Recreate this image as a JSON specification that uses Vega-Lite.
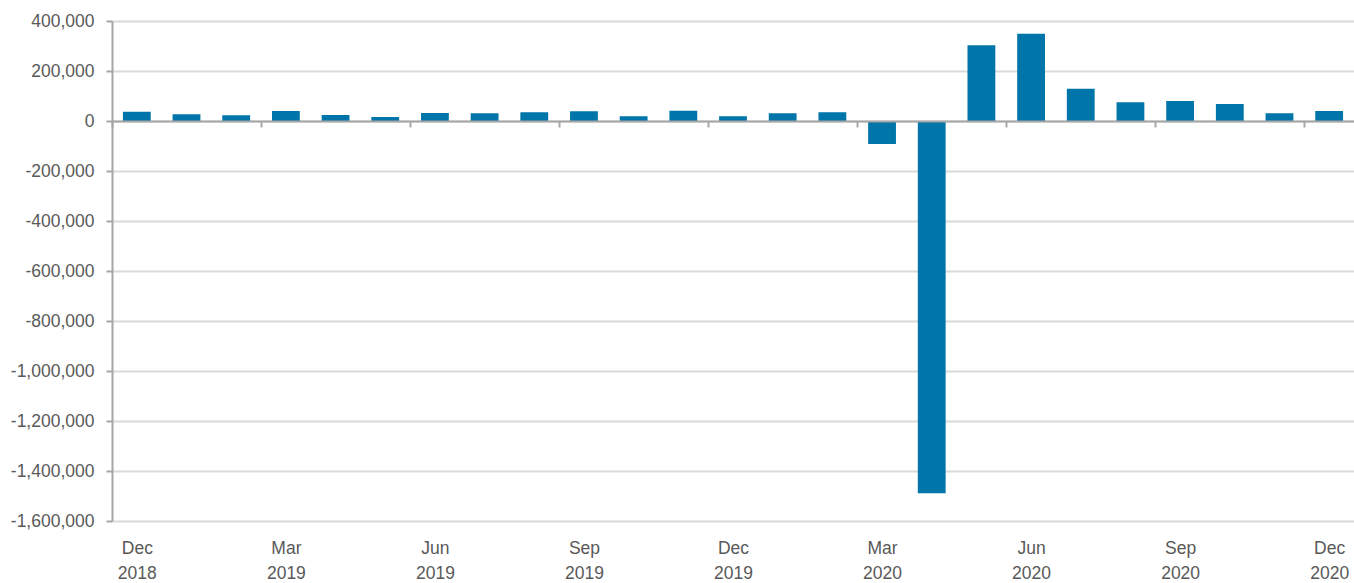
{
  "$schema": "https://vega.github.io/schema/vega-lite/v6.json",
  "width": 1242,
  "height": 500,
  "autosize": {"type": "none"},
  "padding": {"left": 112, "top": 21, "right": 0, "bottom": 62},
  "background": "white",
  "config": {"view": {"stroke": null}},
  "data": {"values": [
    {"month": "Dec 2018", "value": 37000},
    {"month": "Jan 2019", "value": 27000},
    {"month": "Feb 2019", "value": 23000},
    {"month": "Mar 2019", "value": 40000},
    {"month": "Apr 2019", "value": 24000},
    {"month": "May 2019", "value": 16000},
    {"month": "Jun 2019", "value": 32000},
    {"month": "Jul 2019", "value": 31000},
    {"month": "Aug 2019", "value": 35000},
    {"month": "Sep 2019", "value": 39000},
    {"month": "Oct 2019", "value": 19000},
    {"month": "Nov 2019", "value": 41000},
    {"month": "Dec 2019", "value": 19000},
    {"month": "Jan 2020", "value": 31000},
    {"month": "Feb 2020", "value": 35000},
    {"month": "Mar 2020", "value": -92000},
    {"month": "Apr 2020", "value": -1489000},
    {"month": "May 2020", "value": 303000},
    {"month": "Jun 2020", "value": 349000},
    {"month": "Jul 2020", "value": 129000},
    {"month": "Aug 2020", "value": 75000},
    {"month": "Sep 2020", "value": 80000},
    {"month": "Oct 2020", "value": 68000},
    {"month": "Nov 2020", "value": 31000},
    {"month": "Dec 2020", "value": 40000}
  ]},
  "mark": {"type": "bar", "color": "#0075a9"},
  "encoding": {
    "x": {
      "field": "month",
      "type": "ordinal",
      "sort": null,
      "scale": {"paddingInner": 0.44, "paddingOuter": 0.22},
      "axis": {
        "title": null,
        "values": ["Dec 2018", "Mar 2019", "Jun 2019", "Sep 2019", "Dec 2019", "Mar 2020", "Jun 2020", "Sep 2020", "Dec 2020"],
        "labelExpr": "split(datum.label, ' ')",
        "labelAngle": 0,
        "labelAlign": "center",
        "labelBaseline": "top",
        "labelLineHeight": 25.5,
        "labelPadding": 412,
        "labelFont": "Liberation Sans",
        "labelFontSize": 17.5,
        "labelColor": "#595959",
        "labelOverlap": false,
        "labelBound": false,
        "offset": -400,
        "bandPosition": 0,
        "tickOffset": -10.9,
        "labelOffset": 10.9,
        "tickSize": 6,
        "tickWidth": 2,
        "tickColor": "#a6a6a6",
        "domainColor": "#a6a6a6",
        "domainWidth": 2,
        "grid": false,
        "zindex": 1
      }
    },
    "y": {
      "field": "value",
      "type": "quantitative",
      "scale": {"domain": [-1600000, 400000], "nice": false, "zero": false},
      "axis": {
        "title": null,
        "values": [-1600000, -1400000, -1200000, -1000000, -800000, -600000, -400000, -200000, 0, 200000, 400000],
        "format": ",d",
        "labelExpr": "replace(datum.label, '−', '-')",
        "labelFont": "Liberation Sans",
        "labelFontSize": 17.5,
        "labelColor": "#595959",
        "labelPadding": 12,
        "tickSize": 6,
        "tickWidth": 2,
        "tickColor": "#a6a6a6",
        "domainColor": "#a6a6a6",
        "domainWidth": 2,
        "grid": true,
        "gridColor": "#d9d9d9",
        "gridWidth": 2
      }
    }
  }
}
